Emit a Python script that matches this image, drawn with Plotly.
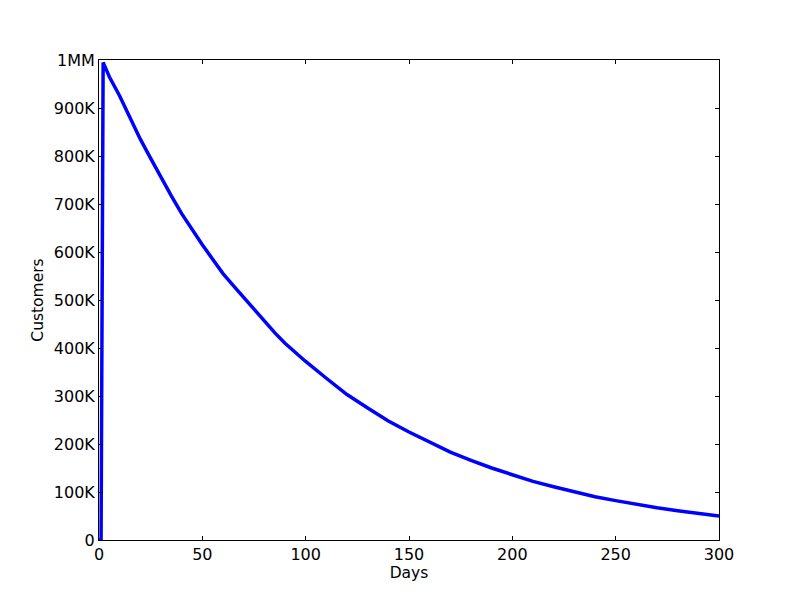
import plotly.graph_objects as go

# values
days = [0, 1, 2, 5, 10, 15, 20, 25, 30, 35, 40, 45, 50, 55, 60, 65, 70, 75, 80, 85, 90, 95,
        100, 110, 120, 130, 140, 150, 160, 170, 180, 190, 200, 210, 220, 230, 240, 250,
        260, 270, 280, 290, 300]
customers = [0, 0, 995000, 965000, 925000, 880000, 835000, 795000, 755000, 717000,
             680000, 647000, 615000, 585000, 555000, 530000, 505000, 480000, 455000,
             432000, 410000, 390000, 372000, 337000, 303000, 275000, 248000, 225000,
             203000, 183000, 166000, 150000, 136000, 122000, 111000, 100000, 90000,
             82000, 74000, 67000, 61000, 55000, 50000]

y_ticks = [0, 100000, 200000, 300000, 400000, 500000, 600000, 700000, 800000, 900000, 1000000]
y_labels = ['0', '100K', '200K', '300K', '400K', '500K', '600K', '700K', '800K', '900K', '1MM']
x_ticks = [0, 50, 100, 150, 200, 250, 300]

fig = go.Figure()
fig.add_trace(go.Scatter(
    x=days, y=customers, mode='lines',
    line=dict(color='#0000ff', width=3.5),
    showlegend=False,
))

axis_style = dict(
    showline=True, linecolor='black', linewidth=1, mirror='ticks',
    ticks='inside', ticklen=4, tickcolor='black',
    showgrid=False, zeroline=False,
)

fig.update_xaxes(range=[0, 300], tickvals=x_ticks,
                 title=dict(text='Days', standoff=2, font=dict(size=15.5)), **axis_style)
fig.update_yaxes(range=[0, 1000000], tickvals=y_ticks, ticktext=y_labels,
                 title=dict(text='Customers', standoff=6, font=dict(size=15.5)), **axis_style)

# page body has an 8px margin, so the figure is shrunk by that amount
fig.update_layout(
    width=784, height=584,
    margin=dict(l=91, r=73, t=52, b=52),
    paper_bgcolor='white', plot_bgcolor='white',
    font=dict(family='DejaVu Sans', size=16, color='black'),
)

fig.write_html('out.html')
